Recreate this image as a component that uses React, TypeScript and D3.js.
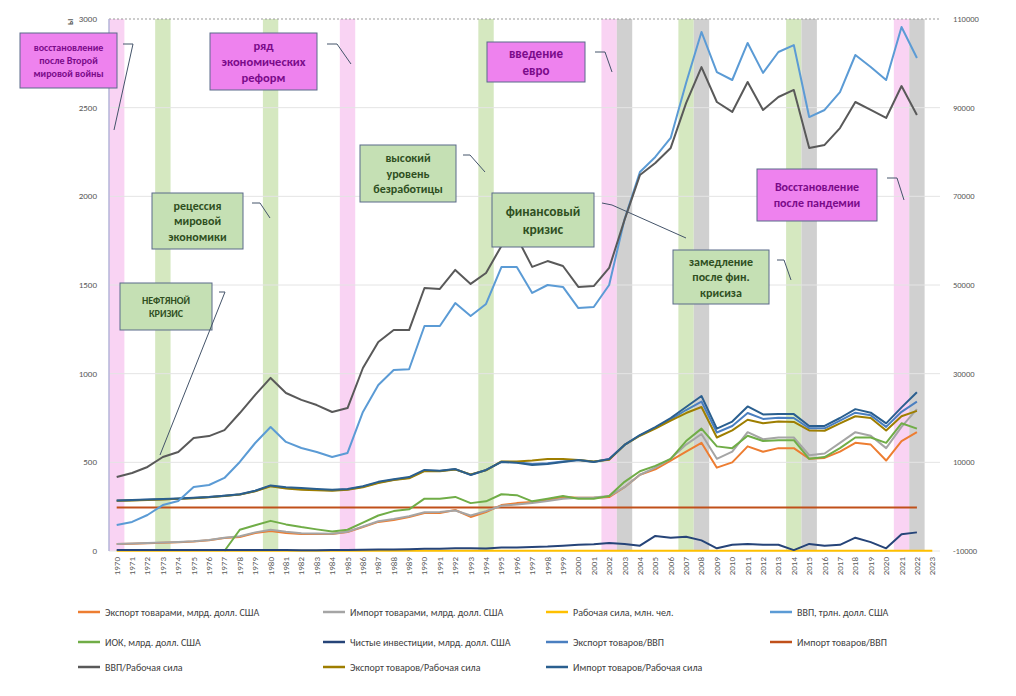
import React from "react";
import * as d3 from "d3";

const years = d3.range(1970, 2024).map(String);
const leftTicks = [0, 500, 1000, 1500, 2000, 2500, 3000];
const rightTicks = [-10000, 10000, 30000, 50000, 70000, 90000, 110000];

const gdpLabor = [417,440,474,530,558,637,648,682,778,880,976,891,852,823,784,806,1032,1179,1246,1246,1483,1478,1585,1506,1568,1720,1770,1602,1635,1607,1489,1494,1596,1867,2120,2188,2273,2526,2729,2532,2476,2645,2487,2560,2600,2273,2290,2385,2532,2487,2442,2622,2459,null];
const gdp = [147,164,203,259,282,361,372,412,502,609,699,615,581,558,530,553,784,936,1021,1025,1269,1269,1398,1325,1393,1601,1601,1455,1500,1489,1370,1376,1500,1870,2137,2222,2329,2639,2927,2701,2656,2865,2696,2814,2853,2447,2487,2588,2797,2729,2656,2955,2780,null];
const impLabor = [285,287,290,293,296,300,305,312,320,340,370,360,355,350,345,350,365,390,405,417,457,452,462,429,457,502,498,485,491,502,513,502,519,598,654,699,750,812,874,690,730,815,770,772,772,705,705,750,800,780,720,810,895,null];
const expLabor = [283,285,288,291,294,298,303,310,318,337,365,352,346,343,340,345,360,383,400,410,450,450,460,432,455,505,505,510,519,519,513,505,515,598,650,690,735,778,812,640,680,740,720,730,728,680,678,720,760,750,680,760,790,null];
const expGdp = [284,286,289,292,295,299,304,311,319,338,367,355,350,346,342,347,362,386,402,413,453,451,461,430,456,503,500,490,495,505,513,503,517,598,652,695,742,795,843,668,705,778,745,751,750,692,692,735,780,765,700,785,842,null];
const impGdp = [245,245,245,245,245,245,245,245,245,245,245,245,245,245,245,245,245,245,245,245,245,245,245,245,245,245,245,245,245,245,245,245,245,245,245,245,245,245,245,245,245,245,245,245,245,245,245,245,245,245,245,245,245,null];
const exports_ = [39,41,44,47,50,53,60,73,79,101,113,101,96,96,96,107,135,164,175,192,214,214,231,192,220,259,270,276,288,304,300,300,304,360,430,460,510,560,610,470,500,590,560,580,580,520,525,560,610,600,510,620,670,null];
const imports_ = [40,42,45,48,51,55,62,75,83,105,120,108,100,98,97,108,138,168,180,196,218,220,228,200,225,255,262,270,282,295,300,302,310,360,430,470,520,600,660,520,560,670,630,640,640,540,550,610,670,650,580,700,800,null];
const iok = [null,null,null,null,null,null,null,0,120,145,170,150,135,122,110,120,160,200,225,235,295,295,305,270,280,320,315,280,295,310,295,295,310,390,450,480,520,620,690,590,580,650,620,625,625,520,530,580,640,640,610,720,690,null];
const netInv = [5,5,5,5,5,5,5,5,5,5,5,5,4,4,5,6,7,8,9,10,12,13,16,15,14,20,20,22,25,30,35,38,45,40,30,85,75,80,60,15,35,40,35,35,5,40,30,35,75,50,15,95,105,null];
const labor = [2,2,2,2,2,2,2,2,2,2,2,2,2,2,2,2,2,2,2,2,2,2,2,2,2,2,2,2,2,2,2,2,2,2,2,2,2,2,2,2,2,2,2,2,2,2,2,2,2,2,2,2,2,2];

const pinkYears = ["1970", "1985", "2002", "2021"];
const greenYears = ["1973", "1980", "1994", "2007", "2014"];
const grayYears = ["2003", "2008", "2015", "2022"];

const series = [
  { name: "Экспорт товарами, млрд. долл. США", color: "#ed7d31", data: exports_ },
  { name: "Импорт товарами, млрд. долл. США", color: "#a5a5a5", data: imports_ },
  { name: "Рабочая сила, млн. чел.", color: "#ffc000", data: labor },
  { name: "ВВП, трлн. долл. США", color: "#5b9bd5", data: gdp },
  { name: "ИОК, млрд. долл. США", color: "#70ad47", data: iok },
  { name: "Чистые инвестиции, млрд. долл. США", color: "#264478", data: netInv },
  { name: "Экспорт товаров/ВВП", color: "#4a7fc0", data: expGdp },
  { name: "Импорт товаров/ВВП", color: "#c0501a", data: impGdp },
  { name: "ВВП/Рабочая сила", color: "#595959", data: gdpLabor },
  { name: "Экспорт товаров/Рабочая сила", color: "#9e7e00", data: expLabor },
  { name: "Импорт товаров/Рабочая сила", color: "#2a5f8f", data: impLabor },
];
const drawOrder = [2, 7, 0, 1, 4, 5, 6, 9, 10, 3, 8];

const notes = [
  { lines: ["восстановление", "после Второй", "мировой войны"], x: 20, y: 33, w: 97, h: 55, fill: "#ee82ee", color: "#7a0a8a", fs: 10, lead: [[123, 44], [133, 44], [114, 130]] },
  { lines: ["ряд", "экономических", "реформ"], x: 210, y: 33, w: 107, h: 57, fill: "#ee82ee", color: "#7a0a8a", fs: 12.5, lead: [[327, 44], [337, 44], [351, 64]] },
  { lines: ["введение", "евро"], x: 487, y: 42, w: 98, h: 40, fill: "#ee82ee", color: "#7a0a8a", fs: 13, lead: [[595, 52], [605, 52], [612, 72]] },
  { lines: ["Восстановление", "после пандемии"], x: 757, y: 169, w: 120, h: 52, fill: "#ee82ee", color: "#7a0a8a", fs: 12, lead: [[887, 178], [897, 178], [904, 200]] },
  { lines: ["высокий", "уровень", "безработицы"], x: 360, y: 145, w: 96, h: 57, fill: "#c5e0b4", color: "#2f4f1f", fs: 12, lead: [[463, 155], [470, 155], [485, 172]] },
  { lines: ["рецессия", "мировой", "экономики"], x: 152, y: 193, w: 91, h: 56, fill: "#c5e0b4", color: "#2f4f1f", fs: 12, lead: [[252, 203], [260, 203], [270, 218]] },
  { lines: ["финансовый", "кризис"], x: 492, y: 193, w: 102, h: 54, fill: "#c5e0b4", color: "#2f4f1f", fs: 13.5, lead: [[602, 203], [612, 205], [686, 238]] },
  { lines: ["замедление", "после фин.", "крисиза"], x: 673, y: 250, w: 96, h: 54, fill: "#c5e0b4", color: "#2f4f1f", fs: 12, lead: [[777, 260], [784, 260], [791, 280]] },
  { lines: ["НЕФТЯНОЙ", "КРИЗИС"], x: 120, y: 283, w: 92, h: 47, fill: "#c5e0b4", color: "#2f4f1f", fs: 10, lead: [[219, 292], [225, 292], [160, 455]] },
];

export default function App() {
  const W = 1016, H = 696;
  const x0 = 109, x1 = 940, yTop = 19, yBot = 551;
  const x = d3.scaleBand().domain(years).range([x0, x1]);
  const y = d3.scaleLinear().domain([0, 3000]).range([yBot, yTop]);
  const yR = d3.scaleLinear().domain([-10000, 110000]).range([yBot, yTop]);
  const cx = (yr: string) => (x(yr) as number) + x.bandwidth() / 2;
  const line = d3.line<number | null>()
    .defined((d) => d !== null)
    .x((_, i) => cx(years[i]))
    .y((d) => y(d as number));
  const bw = x.bandwidth();
  const band = (yr: string, c: string, k: string) => (
    <rect key={k + yr} x={x(yr) as number} y={yTop} width={bw} height={yBot - yTop} fill={c} />
  );
  const legendCols = [78, 323, 546, 770];
  const legendRows = [612, 642, 667];
  return (
    <svg width={W} height={H} style={{ position: "absolute", left: 0, top: 0, background: "#fff", fontFamily: "Calibri, Carlito, 'Open Sans', sans-serif" }}>
      <rect width={W} height={H} fill="#fff" />
      {pinkYears.map((yr) => band(yr, "#f9d3f3", "p"))}
      {greenYears.map((yr) => band(yr, "#d5e8c0", "g"))}
      {grayYears.map((yr) => band(yr, "#d0d0d0", "r"))}
      {leftTicks.map((t) => (
        <line key={t} x1={x0} x2={x1} y1={y(t)} y2={y(t)} stroke={t === 3000 ? "#999" : "#e4e4e4"} strokeDasharray={t === 3000 ? "2,2" : undefined} />
      ))}
      <line x1={x0} x2={x0} y1={yTop} y2={yBot} stroke="#b4b4d8" strokeWidth={1.5} />
      {leftTicks.map((t) => (
        <text key={t} x={x0 - 12} y={y(t) + 3} textAnchor="end" fontSize={9} fill="#595959">{t}</text>
      ))}
      {rightTicks.map((t) => (
        <text key={t} x={x1 + 13} y={yR(t) + 3} fontSize={8.5} fill="#595959">{t}</text>
      ))}
      <text transform={`translate(73,${yTop + 6}) rotate(-90)`} fontSize={9} fontWeight="bold" fill="#595959">ы</text>
      {years.map((yr) => (
        <text key={yr} transform={`translate(${cx(yr) + 3},${yBot + 6}) rotate(-90)`} textAnchor="end" fontSize={9} fill="#595959">{yr}</text>
      ))}
      {drawOrder.map((i) => (
        <path key={i} d={line(series[i].data) || ""} fill="none" stroke={series[i].color} strokeWidth={2} strokeLinejoin="round" />
      ))}
      {notes.map((n, i) => (
        <g key={i}>
          <rect x={n.x} y={n.y} width={n.w} height={n.h} fill={n.fill} stroke="#5a6a8a" strokeWidth={1} />
          {n.lines.map((l, j) => (
            <text key={j} x={n.x + n.w / 2} y={n.y + n.h / 2 + (j - (n.lines.length - 1) / 2) * n.fs * 1.3 + n.fs * 0.35}
              textAnchor="middle" fontSize={n.fs} fontWeight="bold" fill={n.color}>{l}</text>
          ))}
          <polyline points={n.lead.map((p) => p.join(",")).join(" ")} fill="none" stroke="#44546a" strokeWidth={1} />
        </g>
      ))}
      {series.map((s, i) => {
        const lx = legendCols[i % 4], ly = legendRows[Math.floor(i / 4)];
        return (
          <g key={s.name}>
            <line x1={lx} x2={lx + 22} y1={ly} y2={ly} stroke={s.color} strokeWidth={2.5} />
            <text x={lx + 27} y={ly + 3.5} fontSize={10} fill="#404040">{s.name}</text>
          </g>
        );
      })}
    </svg>
  );
}
